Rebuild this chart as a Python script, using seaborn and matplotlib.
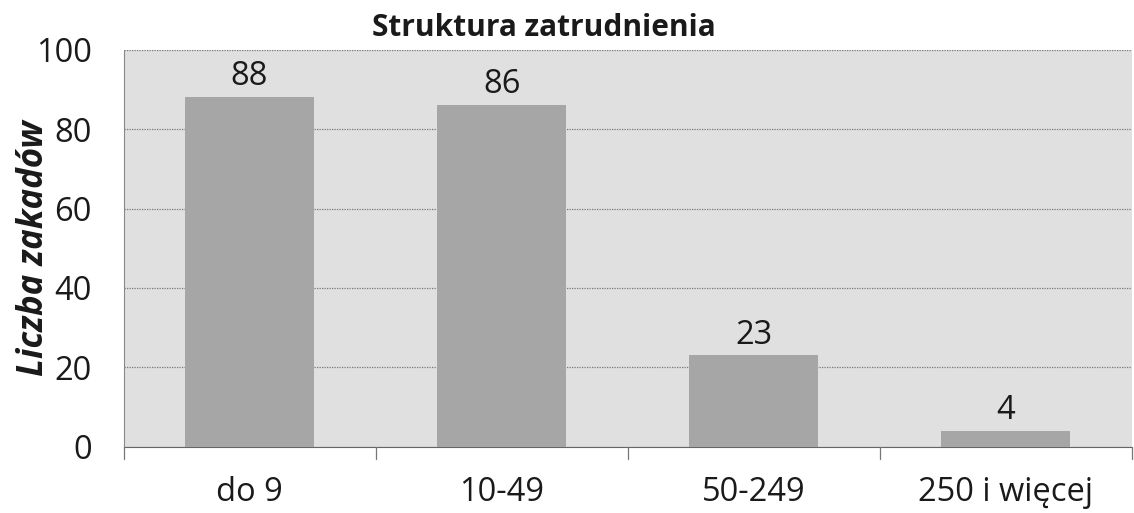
import pandas as pd
import seaborn as sns
import matplotlib.pyplot as plt

categories = ["do 9", "10-49", "50-249", "250 i więcej"]
counts = [88, 86, 23, 4]

df = pd.DataFrame({"kategoria": categories, "liczba": counts})

sns.set_style("white")
plt.rcParams['font.family'] = ['Open Sans', 'DejaVu Sans']

fig = plt.figure(figsize=(11.34, 5.13), dpi=100)
ax = fig.add_axes([0.109, 0.129, 0.889, 0.774])

sns.barplot(data=df, x="kategoria", y="liczba", color="#a6a6a6", width=0.51,
            saturation=1, edgecolor="none", ax=ax, zorder=3)

ax.set_facecolor("#e0e0e0")
ax.set_ylim(0, 100)
ax.set_yticks(range(0, 101, 20))
ax.grid(axis="y", color="#777777", linestyle=(0, (1, 1)), linewidth=0.9, zorder=0)
ax.set_axisbelow(True)

for s in ["top", "right"]:
    ax.spines[s].set_visible(False)
ax.spines["left"].set_color("#888888")
ax.spines["left"].set_linestyle((0, (1, 1)))
ax.spines["bottom"].set_color("#666666")
ax.spines["bottom"].set_linestyle((0, (1, 1)))

ax.tick_params(axis="y", labelsize=23.5, length=6, color="#888888", pad=17,
               labelcolor="#1a1a1a")
ax.tick_params(axis="x", labelsize=23.5, length=0, pad=21,
               labelcolor="#1a1a1a")

# category separator ticks below the axis
for i in range(len(categories) + 1):
    ax.plot([i - 0.5, i - 0.5], [0, -3], color="#777777", lw=0.9,
            clip_on=False, zorder=4)

ax.set_xlim(-0.5, len(categories) - 0.5)

for i, v in enumerate(counts):
    ax.text(i, v + 1.0, str(v), ha="center", va="bottom", fontsize=23.5,
            color="#1a1a1a")

ax.set_xlabel("")
ax.set_ylabel("Liczba zakadów", fontsize=25, fontweight="bold",
              fontstyle="italic", color="#1a1a1a")
ax.yaxis.set_label_coords(-0.071, 0.5)
fig.text(0.48, 0.945, "Struktura zatrudnienia", fontsize=21.5, fontweight="bold",
         ha="center", va="center", color="#1a1a1a")

fig.savefig("out.png", dpi=100)
